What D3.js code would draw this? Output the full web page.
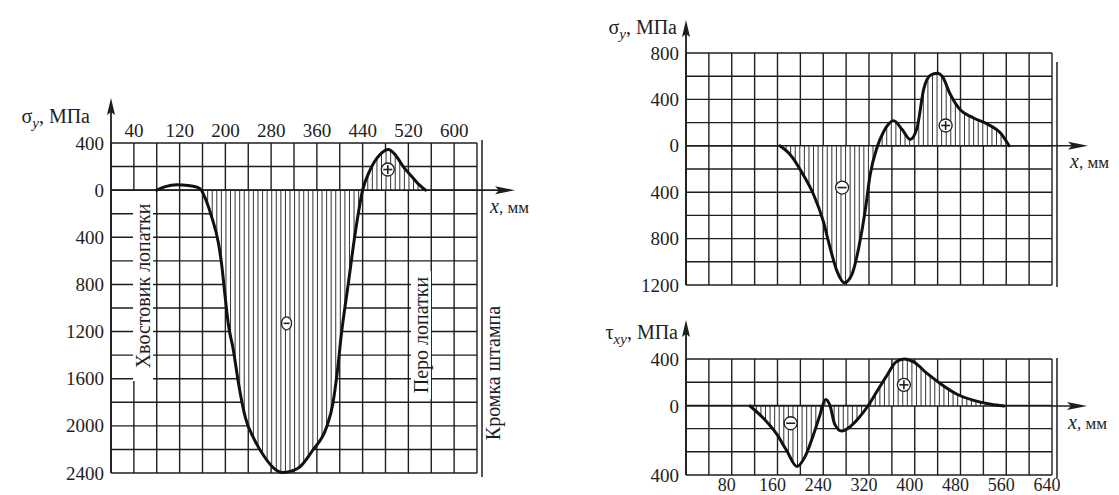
<!DOCTYPE html>
<html>
<head>
<meta charset="utf-8">
<script src="https://cdn.jsdelivr.net/npm/d3@7"></script>
<style>
  body { margin: 0; background: #fff; }
  svg { display: block; font-family: "Liberation Serif", "DejaVu Serif", serif; }
</style>
</head>
<body>
<svg id="chart" width="1119" height="495"></svg>
<script>
// Values: x in mm, stress in MPa (compression negative)
const xDomain = [0, 640]
const gridStep = 40

// left chart: sigma_y along the blade
const leftXTicks = [40, 120, 200, 280, 360, 440, 520, 600]
const leftYTicks = [400, 0, -400, -800, -1200, -1600, -2000, -2400]
const leftSigma = [
  [80, 0], [95, 30], [115, 45], [135, 40], [150, 25], [158, 0], [161, -28],
  [176, -227], [188, -452], [194, -651], [199, -877], [205, -1131], [214, -1358],
  [223, -1640], [235, -1930], [250, -2110], [268, -2260], [285, -2360], [300, -2395],
  [327, -2360], [353, -2205], [377, -2010], [388, -1810], [395, -1570], [403, -1216],
  [415, -792], [427, -365], [440, 0], [453, 170], [470, 300], [485, 345], [497, 300],
  [511, 200], [526, 115], [540, 40], [550, 0]
]
const leftSigns = [[307, -1130, "-"], [484, 175, "+"]]

// right top chart: sigma_y
const rightYTicks = [800, 400, 0, -400, -800, -1200]
const rightSigma = [
  [164, 0], [182, -75], [205, -250], [223, -420], [240, -650], [252, -880],
  [264, -1080], [277, -1180], [290, -1110], [302, -880], [314, -535], [322, -250],
  [334, -15], [346, 125], [363, 215], [378, 140], [392, 55], [404, 155], [416, 495],
  [428, 610], [439, 625], [448, 600], [461, 455], [477, 325], [503, 240], [530, 180],
  [550, 110], [565, 0]
]
const rightSigmaSigns = [[273, -360, "-"], [454, 175, "+"]]

// right bottom chart: tau_xy
const tauXTicks = [80, 160, 240, 320, 400, 480, 560, 640]
const tauYTicks = [400, 0, -400]
const rightTau = [
  [112, 0], [135, -70], [159, -165], [176, -258], [194, -350], [208, -295],
  [222, -175], [234, -55], [244, 55], [252, 0], [260, -105], [272, -145],
  [287, -120], [302, -70], [318, 0], [334, 125], [352, 265], [367, 375],
  [382, 400], [398, 375], [422, 275], [445, 190], [474, 100], [503, 48],
  [533, 15], [556, 0]
]
const tauSigns = [[183, -100, "-"], [381, 180, "+"]]

const svg = d3.select("#chart")
const ink = "#1e1e1e"

const panels = [
  {
    id: "left", x0: 111, x1: 477, yDomain: [400, -2400], yRange: [143, 473], rows: 14,
    curve: leftSigma, hatchFrom: 158, signs: leftSigns, yTicks: leftYTicks,
    arrowTop: 98, arrowRight: 515, edgeTop: 140, edgeBottom: 477
  },
  {
    id: "sig", x0: 686, x1: 1052, yDomain: [800, -1200], yRange: [53, 285], rows: 10,
    curve: rightSigma, hatchFrom: 164, signs: rightSigmaSigns, yTicks: rightYTicks,
    arrowTop: 20, arrowRight: 1088, edgeTop: 62, edgeBottom: 287
  },
  {
    id: "tau", x0: 686, x1: 1052, yDomain: [400, 0, -400], yRange: [359, 406, 475], rows: 5,
    curve: rightTau, hatchFrom: 112, signs: tauSigns, yTicks: tauYTicks,
    arrowTop: 320, arrowRight: 1087, edgeTop: 358, edgeBottom: 478
  }
]

panels.forEach(p => {
  const g = svg.append("g")
  const x = d3.scaleLinear().domain(xDomain).range([p.x0, p.x1])
  const y = d3.scaleLinear().domain(p.yDomain).range(p.yRange)
  const yTop = p.yRange[0], yBot = p.yRange[p.yRange.length - 1]
  p.x = x; p.y = y

  // grid
  const rowPos = d3.scaleLinear().domain([0, p.rows]).range([yTop, yBot])
  g.selectAll(".col").data(d3.range(xDomain[0], xDomain[1] + 1, gridStep)).join("line")
    .attr("x1", d => x(d)).attr("x2", d => x(d))
    .attr("y1", yTop).attr("y2", yBot)
    .attr("stroke", ink).attr("stroke-width", 1.4)
  g.selectAll(".row").data(d3.range(p.rows + 1)).join("line")
    .attr("x1", p.x0).attr("x2", p.x1)
    .attr("y1", d => rowPos(d)).attr("y2", d => rowPos(d))
    .attr("stroke", ink).attr("stroke-width", 1.4)

  // hatched region between curve and zero
  const hatchData = p.curve.filter(d => d[0] >= p.hatchFrom)
  const area = d3.area().x(d => x(d[0])).y0(y(0)).y1(d => y(d[1])).curve(d3.curveMonotoneX)
  svg.append("clipPath").attr("id", "clip-" + p.id)
    .append("path").attr("d", area(hatchData))
  g.append("path").attr("d", area(hatchData)).attr("fill", "#fff")
  const hg = g.append("g").attr("clip-path", `url(#clip-${p.id})`)
  hg.selectAll("line").data(d3.range(p.hatchFrom + 3, 640, 8)).join("line")
    .attr("x1", d => x(d)).attr("x2", d => x(d))
    .attr("y1", yTop - 10).attr("y2", yBot + 10)
    .attr("stroke", ink).attr("stroke-width", 0.9)

  // axes with arrows
  g.append("line").attr("x1", p.x0).attr("x2", p.arrowRight - 10)
    .attr("y1", y(0)).attr("y2", y(0)).attr("stroke", ink).attr("stroke-width", 1.6)
  g.append("path")
    .attr("d", `M${p.arrowRight},${y(0)} l-20,-4 l4,4 l-4,4 z`).attr("fill", ink)
  g.append("line").attr("x1", p.x0).attr("x2", p.x0)
    .attr("y1", yBot).attr("y2", p.arrowTop + 10).attr("stroke", ink).attr("stroke-width", 1.8)
  g.append("path")
    .attr("d", `M${p.x0},${p.arrowTop} l-4,17 l4,-3 l4,3 z`).attr("fill", ink)

  // die edge double line
  g.append("line").attr("x1", p.x1 + 5).attr("x2", p.x1 + 5)
    .attr("y1", p.edgeTop).attr("y2", p.edgeBottom).attr("stroke", ink).attr("stroke-width", 1.5)

  // stress curve
  const line = d3.line().x(d => x(d[0])).y(d => y(d[1])).curve(d3.curveMonotoneX)
  g.append("path").attr("d", line(p.curve))
    .attr("fill", "none").attr("stroke", "#111").attr("stroke-width", 3)
    .attr("stroke-linejoin", "round").attr("stroke-linecap", "round")

  // sign markers
  p.signs.forEach(([sx, sy, s]) => {
    const cx = x(sx), cy = y(sy)
    const rx = p.id === "left" && s === "-" ? 5 : 6.5
    g.append("ellipse").attr("cx", cx).attr("cy", cy).attr("rx", rx).attr("ry", 6.5)
      .attr("fill", "#fff").attr("stroke", ink).attr("stroke-width", 1.3)
    g.append("line").attr("x1", cx - rx + 2).attr("x2", cx + rx - 2)
      .attr("y1", cy).attr("y2", cy).attr("stroke", ink).attr("stroke-width", 1.6)
    if (s === "+") {
      g.append("line").attr("x1", cx).attr("x2", cx)
        .attr("y1", cy - 4.5).attr("y2", cy + 4.5).attr("stroke", ink).attr("stroke-width", 1.6)
    }
  })

  // y tick labels
  g.selectAll(".ytl").data(p.yTicks).join("text")
    .attr("x", p.x0 - 7).attr("y", d => y(d) + 6.5)
    .attr("text-anchor", "end").attr("font-size", 19).attr("fill", ink)
    .text(d => Math.abs(d))
})

// axis titles
function yTitle(symbol, sub, xEnd, base) {
  const t = svg.append("text").attr("x", xEnd).attr("y", base)
    .attr("text-anchor", "end").attr("font-size", 20).attr("fill", ink)
  t.append("tspan").text(symbol)
  t.append("tspan").attr("font-style", "italic").attr("font-size", 15).attr("dy", 5).text(sub)
  t.append("tspan").attr("dy", -5).text(", МПа")
}
function xTitle(xStart, base) {
  const t = svg.append("text").attr("x", xStart).attr("y", base)
    .attr("font-size", 20).attr("fill", ink)
  t.append("tspan").attr("font-style", "italic").text("x")
  t.append("tspan").attr("font-size", 17).text(", мм")
}
yTitle("σ", "y", 90, 123)
yTitle("σ", "y", 677, 34)
yTitle("τ", "xy", 678, 339)
xTitle(490, 213)
xTitle(1070, 168)
xTitle(1068, 429)

// x tick labels
const L = panels[0], B = panels[2]
svg.selectAll(".xtl").data(leftXTicks).join("text")
  .attr("x", d => L.x(d)).attr("y", 137)
  .attr("text-anchor", "middle").attr("font-size", 19).attr("fill", ink)
  .text(d => d)
svg.selectAll(".btl").data(tauXTicks).join("text")
  .attr("x", d => B.x(d) - 5).attr("y", 491)
  .attr("text-anchor", "middle").attr("font-size", 18).attr("fill", ink)
  .text(d => d)

// vertical annotations on the left chart
function vLabel(text, bx, cy, box) {
  if (box) {
    svg.append("rect").attr("x", bx - 17).attr("y", cy - box / 2)
      .attr("width", 20).attr("height", box).attr("fill", "#fff")
  }
  svg.append("text").attr("transform", `translate(${bx},${cy}) rotate(-90)`)
    .attr("text-anchor", "middle").attr("font-size", 20).attr("fill", ink)
    .text(text)
}
vLabel("Хвостовик лопатки", 150, 286, 190)
vLabel("Перо лопатки", 428, 335, 128)
vLabel("Кромка штампа", 500, 373, 0)
</script>
</body>
</html>
